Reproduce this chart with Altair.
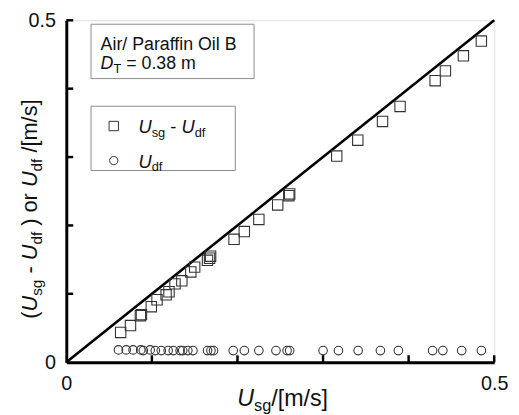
import altair as alt
import pandas as pd

# ---------------- data ----------------
usg_sq = [0.0635, 0.075, 0.0866, 0.0878, 0.0993, 0.106, 0.1166, 0.120, 0.127, 0.135,
          0.1455, 0.150, 0.165, 0.1674, 0.1686, 0.196, 0.208, 0.225, 0.247, 0.260,
          0.261, 0.316, 0.3406, 0.3695, 0.390, 0.431, 0.443, 0.464, 0.485]
slip_sq = [0.0435, 0.0536, 0.068, 0.0696, 0.0812, 0.0913, 0.0986, 0.103, 0.1145, 0.119,
           0.132, 0.139, 0.149, 0.152, 0.155, 0.1797, 0.191, 0.2087, 0.230, 0.2435,
           0.246, 0.3014, 0.3246, 0.352, 0.374, 0.4116, 0.426, 0.448, 0.4696]

usg_ci = [0.061, 0.070, 0.078, 0.087, 0.090, 0.098, 0.104, 0.111, 0.119, 0.125, 0.133,
          0.136, 0.142, 0.148, 0.165, 0.169, 0.172, 0.195, 0.208, 0.225, 0.245, 0.258,
          0.261, 0.300, 0.318, 0.341, 0.367, 0.388, 0.428, 0.440, 0.462, 0.485]
udf_ci = [0.018, 0.018, 0.018, 0.018, 0.017, 0.018, 0.017, 0.017, 0.017, 0.017, 0.017,
          0.017, 0.017, 0.017, 0.017, 0.017, 0.017, 0.017, 0.017, 0.017, 0.017, 0.017,
          0.017, 0.017, 0.017, 0.017, 0.017, 0.017, 0.017, 0.017, 0.017, 0.017]

diag_x = [0.0, 0.5]
diag_y = [0.0, 0.5]
tick_vals = [0.1, 0.2, 0.3, 0.4, 0.5]
label_vals = [0, 0.5]

# ---------------- layout ----------------
W, H = 433, 346
FONT = "Liberation Sans"
INK = "#111111"

WID = {' ': 278, '(': 333, ')': 333, '-': 333, '/': 278, '[': 278, ']': 278, 'm': 833,
       's': 500, 'g': 556, 'd': 556, 'f': 278, 'o': 556, 'r': 333, 'U': 722, 'A': 667,
       'i': 222, 'P': 667, 'a': 556, 'n': 556, 'O': 778, 'l': 222, 'B': 667, 'D': 722,
       'T': 611, '=': 584, '0': 556, '.': 278, '3': 556, '8': 556}


def tw(s, fs):
    return sum(WID.get(c, 556) for c in s) * fs / 1000.0


def run(pieces, x0, y0, fs, fss, shift, vertical=False):
    rows = []
    pos = 0.0
    for text, kind in pieces:
        size = fss if kind == 's' else fs
        lead = len(text) - len(text.lstrip())
        p = pos + tw(text[:lead], size)
        sh = shift if kind == 's' else 0
        if vertical:
            rows.append(dict(px=x0 + sh, py=y0 - p, t=text.strip(), k=kind, fs=size))
        else:
            rows.append(dict(px=x0 + p, py=y0 + sh, t=text.strip(), k=kind, fs=size))
        pos += tw(text, size)
    return rows


ytitle = run([("(", 'n'), ("U", 'i'), ("sg", 's'), (" - ", 'n'), ("U", 'i'), ("df", 's'),
              (" ) or ", 'n'), ("U", 'i'), ("df", 's'), (" /[m/s]", 'n')],
             -30, 302, 22, 15.5, 5, vertical=True)
xtitle = run([("U", 'i'), ("sg", 's'), ("/[m/s]", 'n')], 173, 390, 23.5, 16.5, 5)
ann = (run([("Air/ Paraffin Oil B", 'n')], 34.7, 30.5, 18, 13, 4)
       + run([("D", 'i'), ("T", 's'), (" = 0.38 m", 'n')], 34.7, 49, 18, 13, 4)
       + run([("U", 'i'), ("sg", 's'), (" - ", 'n'), ("U", 'i'), ("df", 's')], 73, 114, 18.5, 13, 4)
       + run([("U", 'i'), ("df", 's')], 73, 149, 18.5, 13, 4))

hor = pd.DataFrame(xtitle + ann)
ver = pd.DataFrame(ytitle)

xs = alt.Scale(domain=[0, 0.5], nice=False, zero=False)
ys = alt.Scale(domain=[0, 0.5], nice=False, zero=False)
xaxis = alt.Axis(values=label_vals, format="~g", title=None, grid=False, ticks=False,
                 domainColor="black", domainWidth=3, labelFontSize=20, labelFont=FONT,
                 labelColor=INK, labelPadding=12, labelFlush=False)
yaxis = alt.Axis(values=label_vals, format="~g", title=None, grid=False, ticks=False,
                 domainColor="black", domainWidth=3, labelFontSize=20, labelFont=FONT,
                 labelColor=INK, labelPadding=11, labelFlush=False)

X = lambda: alt.X("x:Q", scale=xs, axis=xaxis)
Y = lambda: alt.Y("y:Q", scale=ys, axis=yaxis)

diag = alt.Chart(pd.DataFrame({"x": diag_x, "y": diag_y})).mark_line(
    color="black", strokeWidth=2.6).encode(x=X(), y=Y())

squares = alt.Chart(pd.DataFrame({"x": usg_sq, "y": slip_sq})).mark_point(
    shape="square", filled=False, size=110, stroke="#333333", strokeWidth=1.1, opacity=1
).encode(x=X(), y=Y())

circles = alt.Chart(pd.DataFrame({"x": usg_ci, "y": udf_ci})).mark_point(
    shape="circle", filled=False, size=75, stroke="#333333", strokeWidth=1.1, opacity=1
).encode(x=X(), y=Y())

xticks = alt.Chart(pd.DataFrame({"x": tick_vals})).mark_rule(
    color="black", strokeWidth=2.5).encode(x=X(), y=alt.value(H), y2=alt.value(H - 7))
yticks = alt.Chart(pd.DataFrame({"y": tick_vals})).mark_rule(
    color="black", strokeWidth=2.5).encode(y=Y(), x=alt.value(0), x2=alt.value(7))

one = pd.DataFrame({"a": [0]})
box1 = alt.Chart(one).mark_rect(fill="white", stroke="#8a8a8a", strokeWidth=1).encode(
    x=alt.value(25), x2=alt.value(190), y=alt.value(4), y2=alt.value(59))
box2 = alt.Chart(one).mark_rect(fill="white", stroke="#8a8a8a", strokeWidth=1).encode(
    x=alt.value(25), x2=alt.value(171), y=alt.value(87), y2=alt.value(152))
leg_sq = alt.Chart(one).mark_point(shape="square", filled=False, size=90, stroke="#333333",
                                   strokeWidth=1, opacity=1).encode(x=alt.value(48), y=alt.value(107))
leg_ci = alt.Chart(one).mark_point(shape="circle", filled=False, size=70, stroke="#333333",
                                   strokeWidth=1, opacity=1).encode(x=alt.value(48), y=alt.value(142))


def text_layer(df, style, angle):
    d = df[df["k"] == "i"] if style == "italic" else df[df["k"] != "i"]
    return alt.Chart(d).mark_text(font=FONT, fontStyle=style, align="left",
                                  baseline="alphabetic", angle=angle, color=INK).encode(
        x=alt.X("px:Q", scale=None, axis=None),
        y=alt.Y("py:Q", scale=None, axis=None),
        size=alt.Size("fs:Q", scale=None, legend=None),
        text="t:N")


texts = [text_layer(hor, "normal", 0), text_layer(hor, "italic", 0),
         text_layer(ver, "normal", 270), text_layer(ver, "italic", 270)]

chart = alt.layer(diag, squares, circles, xticks, yticks, box1, box2, leg_sq, leg_ci,
                  *texts).properties(
    width=W, height=H,
    padding={"left": 59, "top": 10, "right": 17, "bottom": 50},
    autosize=alt.AutoSizeParams(type="none"),
).configure_view(stroke=None).configure(background="white")

chart.save("out.html", embed_options={"renderer": "svg", "actions": False})
